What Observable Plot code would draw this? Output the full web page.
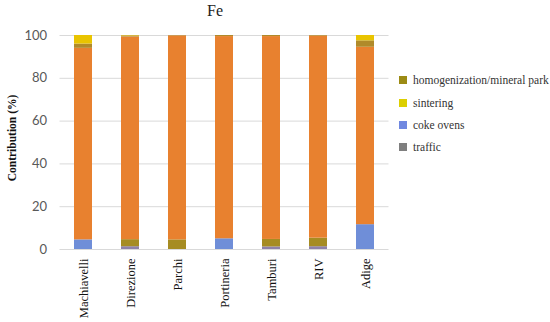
<!DOCTYPE html>
<html>
<head>
<meta charset="utf-8">
<script src="https://cdn.jsdelivr.net/npm/d3@7"></script>
<script src="https://cdn.jsdelivr.net/npm/@observablehq/plot@0.6"></script>
<style>
  body { margin: 0; background: #fff; }
  #wrap { position: relative; width: 550px; height: 322px; overflow: hidden; }
  #title { position: absolute; left: 0; width: 430px; top: 2px; text-align: center; font: 16px "Liberation Serif", serif; color: #222; }
  #ylab { position: absolute; left: 12px; top: 138px; transform: translate(-50%, -50%) rotate(-90deg); white-space: nowrap; font: bold 11.5px "Liberation Serif", serif; color: #111; }
  #legend { position: absolute; left: 399px; top: 69px; font: 11.5px "Liberation Serif", serif; color: #333; }
  .li { height: 22.4px; display: flex; align-items: center; white-space: nowrap; }
  .sw { width: 8px; height: 8px; margin-right: 6px; display: inline-block; }
</style>
</head>
<body>
<div id="wrap">
  <div id="chart"></div>
  <div id="title">Fe</div>
  <div id="ylab">Contribution (%)</div>
  <div id="legend"></div>
</div>
<script>
const sites = ["Machiavelli", "Direzione", "Parchi", "Portineria", "Tamburi", "RIV", "Adige"];
const sources = ["traffic", "coke ovens", "homogenization/mineral park", "steel plant", "other", "sintering"];
const sourceColors = ["#8E82A8", "#6F8ED8", "#A68C22", "#E8812F", "#B08A2A", "#E9C400"];
const legendSources = ["homogenization/mineral park", "sintering", "coke ovens", "traffic"];
const legendColors = ["#9C8B14", "#DCCF00", "#7088E0", "#7F7F7F"];
const yTicks = [0, 20, 40, 60, 80, 100];

const traffic        = [0,    1.3,  0,    0,    1.2,  1.3,  0];
const cokeOvens      = [4.5,  0,    0,    5.0,  0,    0,    11.6];
const homogenization = [0,    3.3,  4.5,  0,    3.5,  4.0,  0];
const steelPlant     = [89.5, 94.7, 95.3, 94.5, 94.8, 94.4, 82.9];
const other          = [2.0,  0.5,  0.2,  0.5,  0.5,  0.3,  3.0];
const sintering      = [4.0,  0.2,  0,    0,    0,    0,    2.5];

const seriesValues = [traffic, cokeOvens, homogenization, steelPlant, other, sintering];
const data = [];
sources.forEach((s, i) => sites.forEach((site, j) => data.push({site, source: s, value: seriesValues[i][j]})));

const chart = Plot.plot({
  width: 550,
  height: 322,
  marginLeft: 59.5,
  marginRight: 161.5,
  marginTop: 35,
  marginBottom: 73,
  style: {background: "transparent"},
  x: {domain: sites, paddingInner: 0.62, paddingOuter: 0.31, label: null},
  y: {domain: [0, 100], label: null},
  color: {domain: sources, range: sourceColors},
  marks: [
    Plot.gridY(yTicks, {stroke: "#d9d9d9", strokeOpacity: 1, strokeWidth: 1}),
    Plot.barY(data, {x: "site", y: "value", fill: "source", order: sources}),
    Plot.axisY({ticks: yTicks, tickSize: 0, tickPadding: 13, fontSize: 13, fontFamily: "Lato, 'Liberation Sans', sans-serif", fill: "#595959", label: null}),
    Plot.axisX({tickSize: 0, tickRotate: -90, tickPadding: 9, fontSize: 12.5, fontFamily: "'Liberation Serif', serif", fill: "#111", label: null})
  ]
});
document.getElementById("chart").appendChild(chart);

const legend = document.getElementById("legend");
legendSources.forEach((s, i) => {
  const row = document.createElement("div");
  row.className = "li";
  row.innerHTML = `<span class="sw" style="background:${legendColors[i]}"></span>${s}`;
  legend.appendChild(row);
});
</script>
</body>
</html>
